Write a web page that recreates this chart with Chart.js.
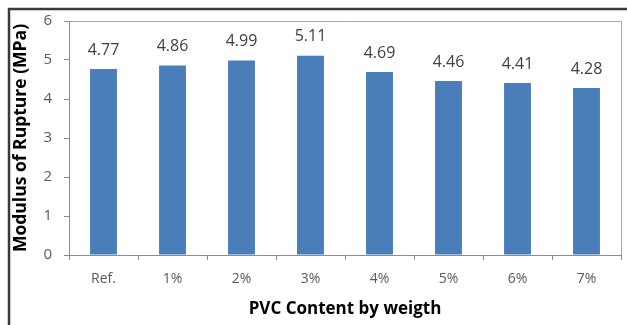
<!DOCTYPE html>
<html>
<head>
<meta charset="utf-8">
<script src="https://cdn.jsdelivr.net/npm/chart.js@4/dist/chart.umd.min.js"></script>
<style>
  html, body { margin: 0; padding: 0; background: #fff; }
  #wrap { width: 627px; height: 325px; position: relative; }
</style>
</head>
<body>
<div id="wrap"><canvas id="myChart"></canvas></div>
<script>
// values
var categories = ["Ref.", "1%", "2%", "3%", "4%", "5%", "6%", "7%"];
var modulus = [4.77, 4.86, 4.99, 5.11, 4.69, 4.46, 4.41, 4.28];
var yTicks = [0, 1, 2, 3, 4, 5, 6];

var fontFam = "'Open Sans', Lato, sans-serif";

// frame around the whole figure + light border round the plot
var framePlugin = {
  id: 'frame',
  beforeDraw: function(chart) {
    var ctx = chart.ctx;
    ctx.save();
    ctx.fillStyle = '#fff';
    ctx.fillRect(0, 0, chart.width, chart.height);
    ctx.strokeStyle = '#3a3a3a';
    ctx.lineWidth = 2.5;
    ctx.beginPath();
    ctx.moveTo(9, chart.height);
    ctx.lineTo(9, 9);
    ctx.lineTo(chart.width, 9);
    ctx.stroke();
    ctx.restore();
  },
  afterDraw: function(chart) {
    var a = chart.chartArea, ctx = chart.ctx;
    ctx.save();
    ctx.strokeStyle = '#a6a6a6';
    ctx.lineWidth = 1;
    ctx.beginPath();
    ctx.moveTo(a.left, a.top + 0.5);
    ctx.lineTo(a.right + 0.5, a.top + 0.5);
    ctx.lineTo(a.right + 0.5, a.bottom);
    ctx.stroke();
    ctx.restore();
  }
};

// value labels over the bars
var valuePlugin = {
  id: 'values',
  afterDatasetsDraw: function(chart) {
    var ctx = chart.ctx;
    var meta = chart.getDatasetMeta(0);
    ctx.save();
    ctx.font = "16px " + fontFam;
    ctx.fillStyle = '#404040';
    ctx.textAlign = 'center';
    ctx.textBaseline = 'bottom';
    meta.data.forEach(function(bar, i) {
      ctx.fillText(modulus[i].toFixed(2), bar.x, bar.y - 11);
    });
    ctx.restore();
  }
};

var myChart = new Chart(document.getElementById('myChart'), {
  type: 'bar',
  data: {
    labels: categories,
    datasets: [{
      label: 'Modulus of Rupture',
      data: modulus,
      backgroundColor: '#4a7ebb',
      borderWidth: 0,
      barPercentage: 0.78,
      categoryPercentage: 0.5
    }]
  },
  options: {
    responsive: true,
    maintainAspectRatio: false,
    animation: false,
    layout: {
      padding: { left: 10, top: 20, right: 6, bottom: 0 }
    },
    plugins: {
      legend: { display: false },
      tooltip: { enabled: false }
    },
    scales: {
      x: {
        offset: true,
        afterFit: function(scale) { scale.height = 70; },
        grid: {
          offset: true,
          drawOnChartArea: false,
          drawTicks: true,
          tickLength: 5,
          color: '#8c8c8c'
        },
        border: { color: '#8c8c8c', width: 1 },
        ticks: {
          color: '#595959',
          padding: 11,
          font: { family: fontFam, size: 14 }
        },
        title: {
          display: true,
          text: 'PVC Content by weigth',
          color: '#000',
          padding: { top: 2, bottom: 6 },
          font: { family: fontFam, size: 17, weight: 'bold' }
        }
      },
      y: {
        min: 0,
        max: 6,
        afterFit: function(scale) { scale.width = 59; },
        afterBuildTicks: function(scale) {
          scale.ticks = yTicks.map(function(v) { return { value: v }; });
        },
        grid: {
          drawOnChartArea: false,
          drawTicks: true,
          tickLength: 5,
          color: '#8c8c8c'
        },
        border: { color: '#8c8c8c', width: 1 },
        ticks: {
          color: '#595959',
          padding: 12,
          font: { family: fontFam, size: 15 }
        },
        title: {
          display: true,
          text: 'Modulus of Rupture (MPa)',
          color: '#000',
          padding: { top: 1, bottom: 0 },
          font: { family: fontFam, size: 17.5, weight: 'bold' }
        }
      }
    }
  },
  plugins: [framePlugin, valuePlugin]
});
</script>
</body>
</html>
